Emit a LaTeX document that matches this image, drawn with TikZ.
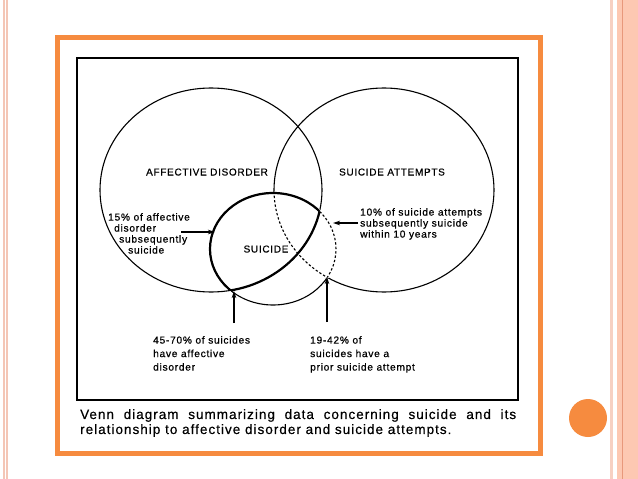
\documentclass[tikz,border=0pt]{standalone}
\usepackage{fontspec}
\setmainfont{Liberation Sans}
\newfontfamily\labfont[LetterSpace=7,FakeBold=0.6]{Liberation Sans}
\newfontfamily\capfont[LetterSpace=7.5,FakeBold=0.4]{Liberation Sans}
\usetikzlibrary{arrows.meta}
\definecolor{frameorange}{HTML}{F68B3F}
\definecolor{stripepale}{HTML}{F7D0C2}
\definecolor{stripeband}{HTML}{FDC8B2}
\definecolor{stripeline}{HTML}{E8987B}
\definecolor{stripeleft}{HTML}{F4C6B6}
\tikzset{
  thinline/.style={line width=1.1pt, black},
  boldline/.style={line width=2.2pt, black},
  dashline/.style={line width=1.1pt, black, dash pattern=on 2.4pt off 2pt},
  eraser/.style={line width=2.6pt, white},
  lab/.style={font=\labfont\fontsize{10.2}{11}\selectfont, inner sep=0pt, align=left},
  labwide/.style={font=\labfont\fontsize{10.2}{13.5}\selectfont, inner sep=0pt, align=left},
  title/.style={font=\labfont\fontsize{10}{11}\selectfont, inner sep=0pt},
  pointer/.style={line width=1.1pt, -{Stealth[length=7pt,width=4.5pt]}},
}
\def\Lshape{(Lc) ellipse [x radius=111pt, y radius=102pt]}
\def\Rshape{(Rc) ellipse [x radius=110pt, y radius=102pt]}
\def\Sshape{(Sc) ellipse [x radius=63pt, y radius=56pt]}
\begin{document}
\begin{tikzpicture}[x=1pt,y=-1pt]
\useasboundingbox (0,0) rectangle (638,479);
\fill[white] (0,0) rectangle (638,479);
% slide decorations
\fill[stripeleft] (3,0) rectangle (4.5,479);
\fill[stripeleft] (6,0) rectangle (7.5,479);
\fill[stripepale] (610,0) rectangle (612.5,479);
\fill[stripeband] (617,0) rectangle (638,479);
\draw[stripeline, line width=1pt] (622.5,0) -- (622.5,479);
\draw[frameorange, line width=5pt] (57.5,37.5) rectangle (540.5,453.5);
\coordinate (dotc) at (588,418);
\fill[frameorange] (dotc) circle [radius=19pt];
% inner box
\draw[line width=1.5pt] (77,58) rectangle (518,400);
% circles
\coordinate (Lc) at (211,190);
\coordinate (Rc) at (384,190);
\coordinate (Sc) at (273,249);
\draw[thinline] \Lshape;
\draw[thinline] \Rshape;
\draw[thinline] \Sshape;
% erase and dash the parts belonging to suicide & suicide attempts
\begin{scope}
  \clip \Sshape;
  \draw[eraser] \Rshape;
  \draw[dashline] \Rshape;
\end{scope}
\begin{scope}
  \clip \Rshape;
  \draw[eraser] \Sshape;
  \draw[dashline] \Sshape;
\end{scope}
% bold suicide & affective disorder
\begin{scope}
  \clip \Lshape;
  \draw[boldline] \Sshape;
\end{scope}
\begin{scope}
  \clip \Sshape;
  \draw[boldline] \Lshape;
\end{scope}
% titles
\node[title, anchor=base] (tAD) at (207,175.5) {AFFECTIVE DISORDER};
\node[title, anchor=base] (tSA) at (392,175.5) {SUICIDE ATTEMPTS};
\node[title, anchor=base] (tS) at (266,252.5) {SUICIDE};
% labels
\node[lab, anchor=north west] (l15) at (108,213) {15\% of affective\\\hspace*{6pt}disorder\\\hspace*{11pt}subsequently\\\hspace*{20pt}suicide};
\node[lab, anchor=north west] (l10) at (360,208) {10\% of suicide attempts\\subsequently suicide\\within 10 years};
\node[labwide, anchor=north west] (l45) at (153,336) {45-70\% of suicides\\have affective\\disorder};
\node[labwide, anchor=north west] (l19) at (310,336) {19-42\% of\\suicides have a\\prior suicide attempt};
% arrows
\coordinate (a1s) at (181,232);
\coordinate (a1e) at (215,232);
\coordinate (a2s) at (358,223);
\coordinate (a2e) at (333,223);
\coordinate (a3s) at (234,323);
\coordinate (a3e) at (234,291);
\coordinate (a4s) at (327,322);
\coordinate (a4e) at (327,277);
\draw[pointer] (a1s) -- (a1e);
\draw[pointer] (a2s) -- (a2e);
\draw[pointer] (a3s) -- (a3e);
\draw[pointer] (a4s) -- (a4e);
% caption
\node[anchor=north west, inner sep=0pt, text width=436pt, align=justify,
      font=\capfont\fontsize{13.5}{15}\selectfont] (cap) at (80,409)
  {Venn diagram summarizing data concerning suicide and its\linebreak relationship to affective disorder and suicide attempts.};
\end{tikzpicture}
\end{document}
